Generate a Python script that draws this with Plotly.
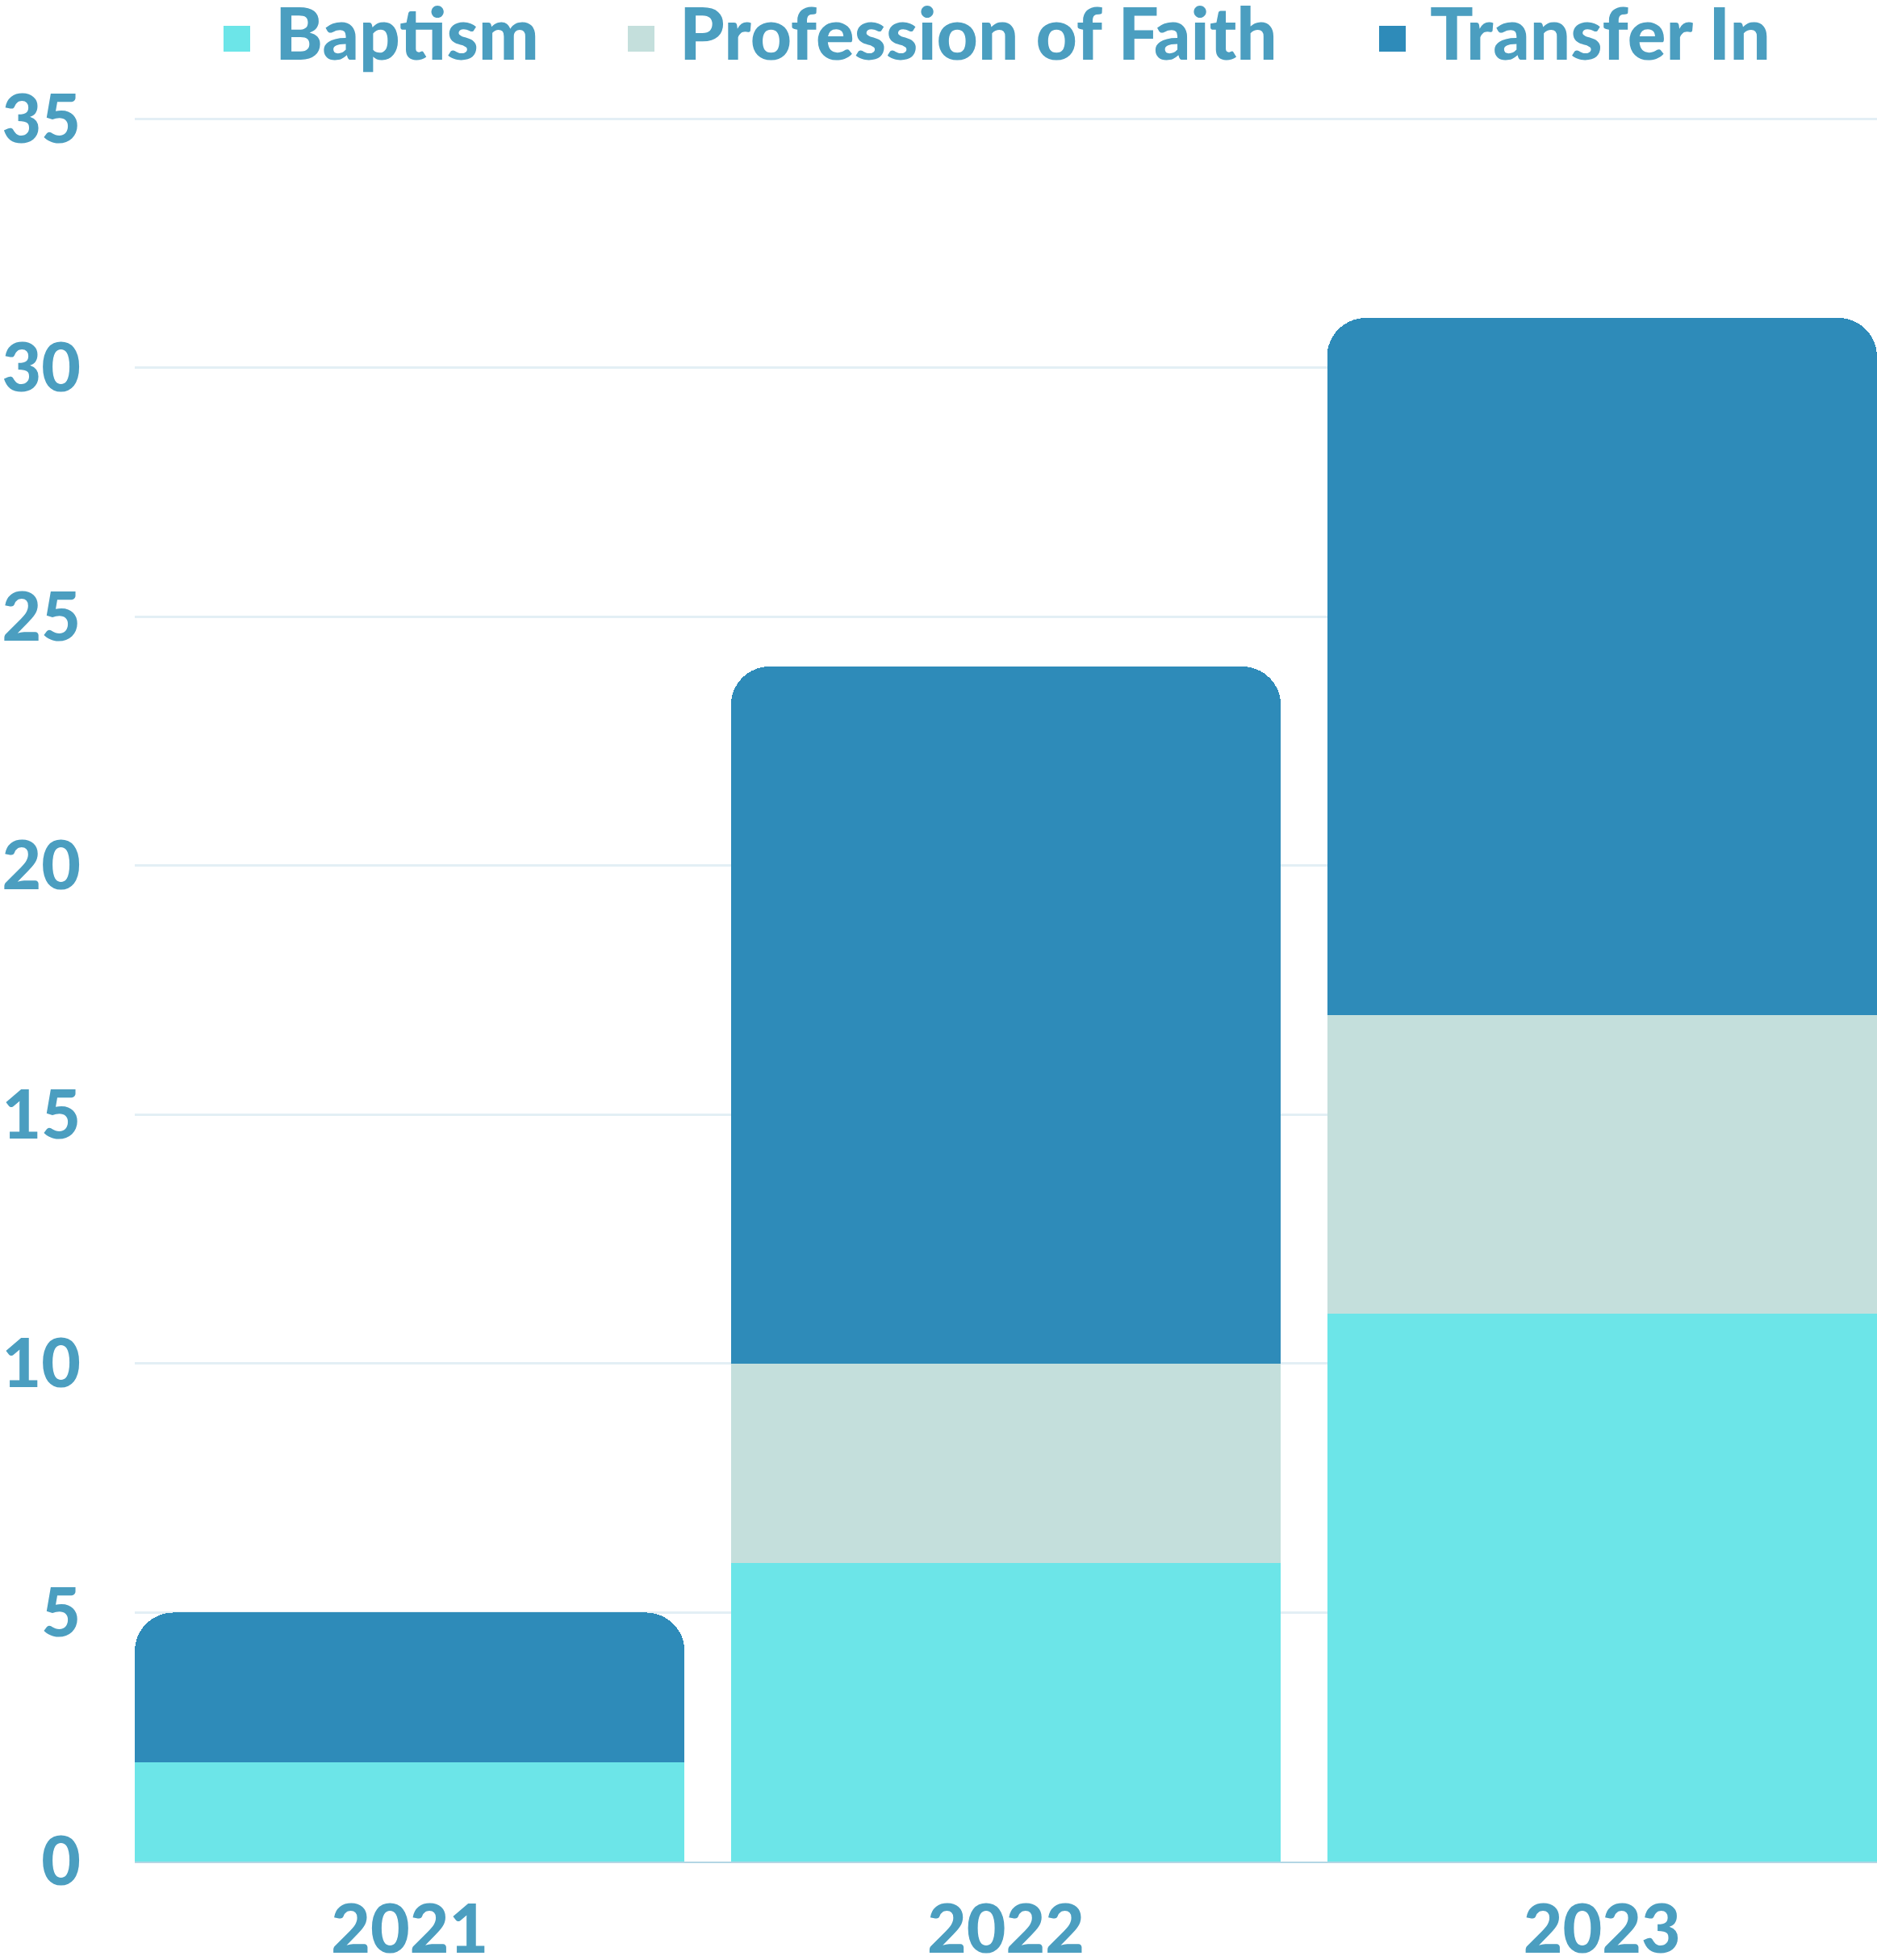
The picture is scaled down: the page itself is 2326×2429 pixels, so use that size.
import plotly.graph_objects as go

years = ["2021", "2022", "2023"]
baptism = [2, 6, 11]
profession = [0, 4, 6]
transfer = [3, 14, 14]

series_names = ["Baptism", "Profession of Faith", "Transfer In"]
series_colors = ["#6ce5e8", "#c4dfdc", "#2e8bb9"]
y_ticks = [0, 5, 10, 15, 20, 25, 30, 35]

TEXT = "#4b9ec0"
FONT = "Lato"
WEIGHT = 900
bargap = 0.0776

W, H = 2326, 2429
L, R, B, T = 167, 0, 122, 141
PW, PH = W - L - R, H - B - T

fig = go.Figure()
for name, vals, col in zip(series_names, [baptism, profession, transfer], series_colors):
    fig.add_trace(go.Bar(x=years, y=vals, name=name, showlegend=False,
                         marker=dict(color=col, line=dict(width=0))))

# custom legend (larger squares than plotly's built-in legend symbols)
legend_sq_left = [277, 778, 1709]   # px
legend_txt_left = [342, 843, 1773]  # px
sq_top, sq_bot = 32, 64
def px_x(p):
    return (p - L) / PW
def px_y(p):
    return (H - B - p) / PH

shapes = []
annotations = []
for name, col, sx, tx in zip(series_names, series_colors, legend_sq_left, legend_txt_left):
    shapes.append(dict(type="rect", xref="paper", yref="paper",
                       x0=px_x(sx), x1=px_x(sx + 33), y0=px_y(sq_bot), y1=px_y(sq_top),
                       fillcolor=col, line=dict(width=0), layer="above"))
    annotations.append(dict(text=name, xref="paper", yref="paper",
                            x=px_x(tx - 3), y=px_y(40), xanchor="left", yanchor="middle",
                            showarrow=False,
                            font=dict(family=FONT, size=89, color=TEXT, weight=WEIGHT)))

fig.update_layout(
    barmode="stack",
    bargap=bargap,
    barcornerradius=48,
    width=W,
    height=H,
    margin=dict(l=L, r=R, t=T, b=B, autoexpand=False),
    paper_bgcolor="white",
    plot_bgcolor="white",
    font=dict(family=FONT, color=TEXT, size=84, weight=WEIGHT),
    showlegend=False,
    shapes=shapes,
    annotations=annotations,
    xaxis=dict(
        type="category",
        range=[-0.5 + bargap / 2, 2.5 - bargap / 2],
        automargin=False,
        showgrid=False,
        showline=True,
        linecolor="#b3d6e4",
        linewidth=2,
        ticks="",
        ticklabelstandoff=10,
        tickfont=dict(family=FONT, size=84, color=TEXT, weight=WEIGHT),
    ),
    yaxis=dict(
        range=[0, 35.1],
        tickvals=y_ticks,
        automargin=False,
        showgrid=True,
        gridcolor="#e3eff5",
        gridwidth=3,
        zeroline=False,
        showline=False,
        ticks="",
        ticklabelstandoff=66,
        tickfont=dict(family=FONT, size=84, color=TEXT, weight=WEIGHT),
    ),
)

fig.write_html(
    "out.html",
    config={"displayModeBar": False},
    post_script="document.body.style.margin='0px';document.body.style.overflow='hidden';",
)
